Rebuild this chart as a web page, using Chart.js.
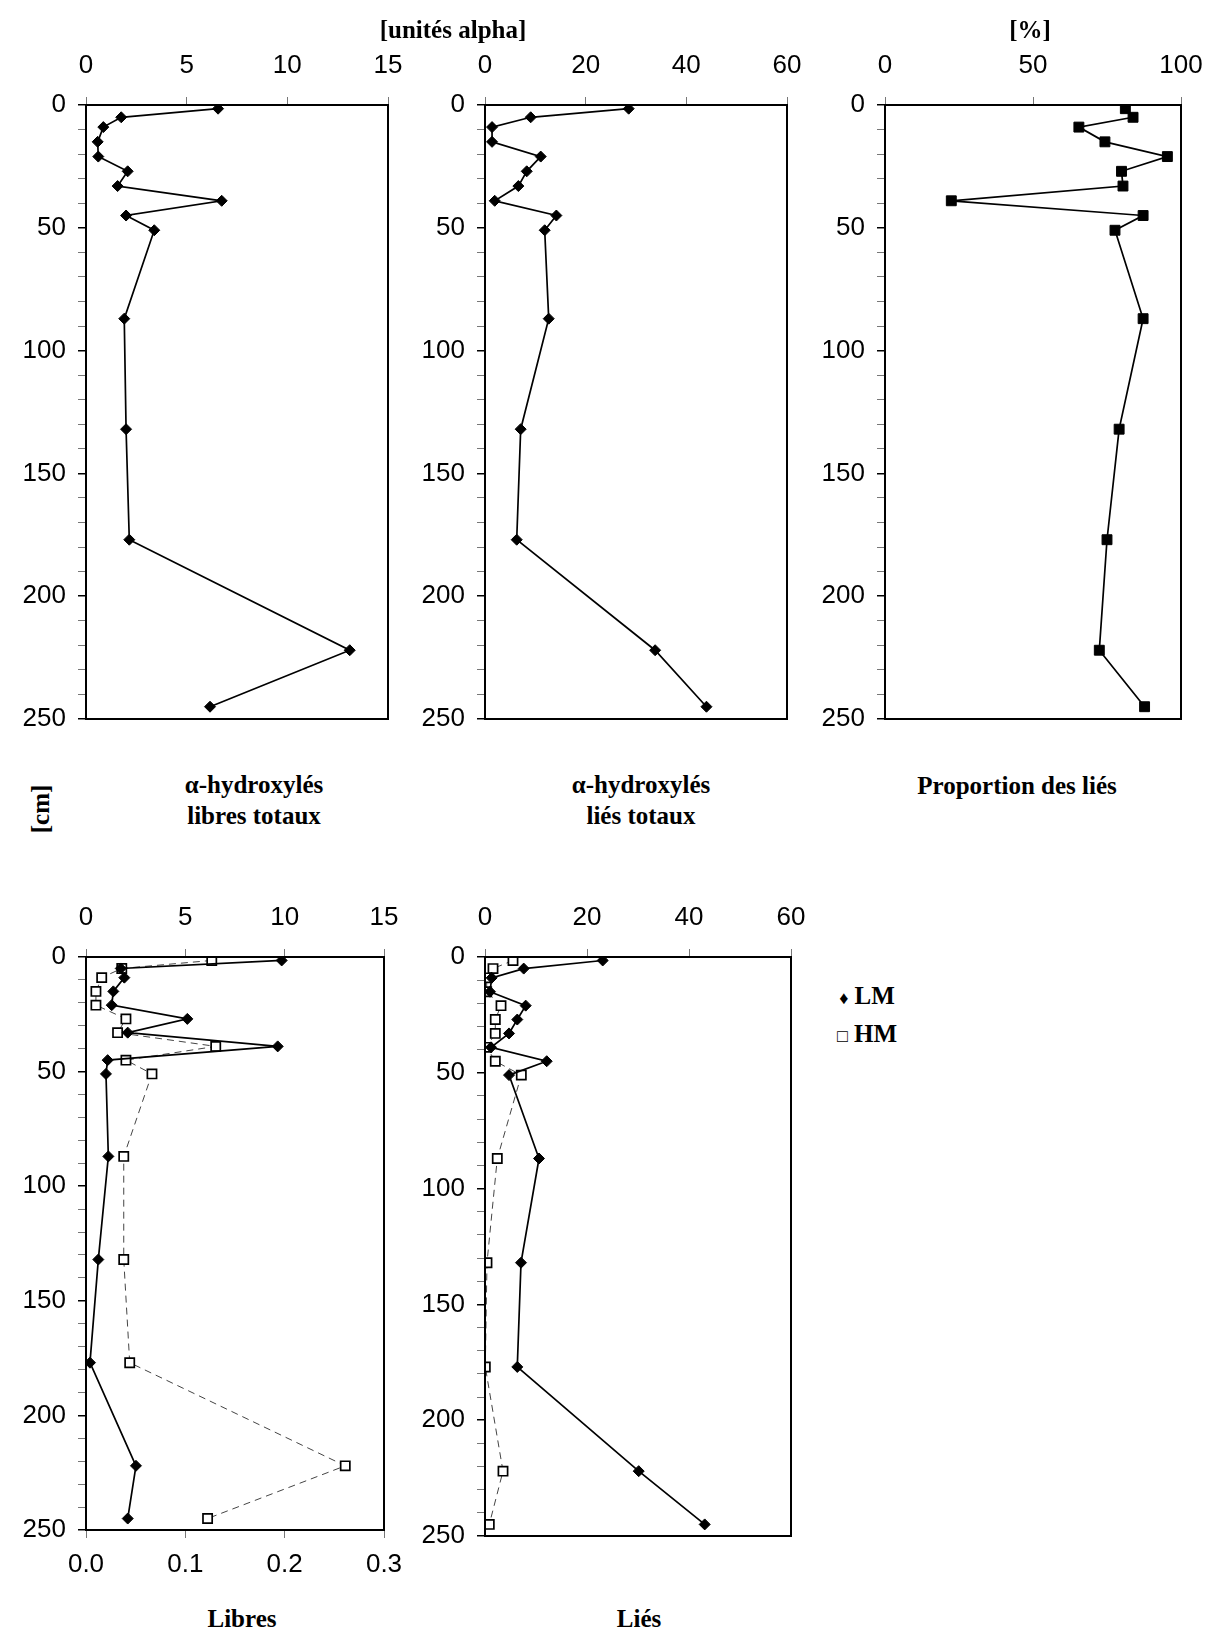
<!DOCTYPE html>
<html>
<head>
<meta charset="utf-8">
<script src="https://cdn.jsdelivr.net/npm/chart.js@4.4.1/dist/chart.umd.min.js"></script>
<style>
  body { margin: 0; background: #fff; width: 1208px; height: 1647px; position: relative; overflow: hidden; }
  canvas { position: absolute; }
  .t { position: absolute; transform: translate(-50%, -50%); font-family: "Liberation Serif", serif; font-weight: bold; font-size: 25px; color: #000; white-space: nowrap; text-align: center; line-height: 31px; }
</style>
</head>
<body>
<canvas id="c1" width="428" height="714" style="left:0px;top:35px"></canvas>
<canvas id="c2" width="427" height="714" style="left:400px;top:35px"></canvas>
<canvas id="c3" width="421" height="714" style="left:800px;top:35px"></canvas>
<canvas id="c4" width="424" height="693" style="left:0px;top:887px"></canvas>
<canvas id="c5" width="431" height="679" style="left:400px;top:887px"></canvas>

<div class="t" style="left:453px;top:29px">[unités alpha]</div>
<div class="t" style="left:1030px;top:29px">[%]</div>
<div class="t" style="left:40px;top:809px;transform:translate(-50%,-50%) rotate(-90deg)">[cm]</div>
<div class="t" style="left:254px;top:800px">α-hydroxylés<br>libres totaux</div>
<div class="t" style="left:641px;top:800px">α-hydroxylés<br>liés totaux</div>
<div class="t" style="left:1017px;top:785px">Proportion des liés</div>
<div class="t" style="left:242px;top:1618px">Libres</div>
<div class="t" style="left:639px;top:1618px">Liés</div>
<div class="t" style="left:867px;top:997px"><span style="font-size:18px">♦</span> LM</div>
<div class="t" style="left:867px;top:1035px"><span style="font-size:18px">□</span> HM</div>

<script>
// depth of each sample [cm]
const depths = [1.5, 5, 9, 15, 21, 27, 33, 39, 45, 51, 87, 132, 177, 222, 245];

// [unités alpha]
const libresTotaux = [6.56, 1.75, 0.86, 0.58, 0.61, 2.07, 1.57, 6.74, 1.99, 3.39, 1.90, 1.99, 2.15, 13.1, 6.16];
const liesTotaux = [28.55, 9.08, 1.4, 1.4, 11.07, 8.29, 6.63, 1.93, 14.18, 11.86, 12.66, 7.09, 6.3, 33.8, 44.0];
// [%]
const proportionLies = [81.2, 83.8, 65.5, 74.3, 95.4, 79.9, 80.4, 22.4, 87.2, 77.7, 87.2, 79.1, 75.0, 72.4, 87.7];

// Libres: LM on the bottom axis (0 - 0.3), HM on the top axis (0 - 15)
const libresLM = [0.197, 0.035, 0.0386, 0.0275, 0.0259, 0.102, 0.042, 0.193, 0.0218, 0.0201, 0.0225, 0.0124, 0.004, 0.0503, 0.042];
const libresHM = [6.33, 1.80, 0.79, 0.50, 0.50, 2.01, 1.59, 6.53, 2.01, 3.32, 1.90, 1.90, 2.20, 13.05, 6.12];
// Liés
const liesLM = [23.08, 7.59, 1.31, 0.98, 7.98, 6.33, 4.71, 1.18, 12.1, 4.71, 10.59, 7.06, 6.33, 30.14, 43.08];
const liesHM = [5.49, 1.57, 0.33, 0.33, 3.14, 2.02, 2.02, 0.33, 2.02, 7.12, 2.41, 0.39, 0.06, 3.53, 0.84];

const depthTicks = [0, 50, 100, 150, 200, 250];

Chart.defaults.font.family = "Liberation Sans";
Chart.defaults.font.size = 26;
Chart.defaults.color = "#000";
Chart.defaults.animation = false;

const pts = (xs) => xs.map((x, i) => ({ x: x, y: depths[i] }));

// box around the plot area
const frame = {
    id: "frame",
    afterDraw(chart) {
        const a = chart.chartArea;
        const ctx = chart.ctx;
        ctx.save();
        ctx.strokeStyle = "#000";
        ctx.lineWidth = 2;
        ctx.strokeRect(a.left, a.top, a.right - a.left, a.bottom - a.top);
        ctx.restore();
    }
};

function depthAxis(w) {
    return {
        reverse: true,
        min: 0,
        max: 250,
        ticks: {
            stepSize: 10,
            autoSkip: false,
            padding: 12,
            callback: v => depthTicks.includes(v) ? v : ""
        },
        grid: {
            drawOnChartArea: false,
            tickLength: 8,
            color: c => (c.tick && c.tick.value % 50 === 0) ? "#000" : "#777",
            lineWidth: c => (c.tick && c.tick.value % 50 === 0) ? 1.5 : 1
        },
        border: { color: "#000", width: 2 },
        afterFit: s => { s.width = w; }
    };
}

function valueAxis(pos, max, step, h, fmt) {
    return {
        type: "linear",
        position: pos,
        min: 0,
        max: max,
        ticks: { stepSize: step, padding: pos === "top" ? 16 : 11, callback: fmt || (v => v) },
        grid: { drawOnChartArea: false, tickLength: 8, color: "#777" },
        border: { color: "#000", width: 2 },
        afterFit: s => { s.height = h; }
    };
}

function solid(data, style, r, xAxisID) {
    return {
        data: pts(data),
        xAxisID: xAxisID || "x",
        showLine: true,
        borderColor: "#000",
        borderWidth: 1.7,
        pointStyle: style,
        pointRadius: r,
        pointBackgroundColor: "#000",
        pointBorderColor: "#000",
        pointBorderWidth: 1
    };
}

function dashed(data, xAxisID) {
    return {
        data: pts(data),
        xAxisID: xAxisID || "x",
        showLine: true,
        borderColor: "#444",
        borderWidth: 1,
        borderDash: [7, 5],
        pointStyle: "rect",
        pointRadius: 6.5,
        pointBackgroundColor: "#fff",
        pointBorderColor: "#000",
        pointBorderWidth: 1.7
    };
}

function drawPanel(id, datasets, scales, padBottom) {
    new Chart(document.getElementById(id), {
        type: "scatter",
        data: { datasets },
        options: {
            responsive: false,
            devicePixelRatio: 1,
            layout: { padding: { left: 0, top: 0, right: 40, bottom: padBottom } },
            plugins: { legend: { display: false }, tooltip: { enabled: false } },
            scales
        },
        plugins: [frame]
    });
}

drawPanel("c1", [solid(libresTotaux, "rectRot", 5.5)],
    { x: valueAxis("top", 15, 5, 70), y: depthAxis(86) }, 30);

drawPanel("c2", [solid(liesTotaux, "rectRot", 5.5)],
    { x: valueAxis("top", 60, 20, 70), y: depthAxis(85) }, 30);

drawPanel("c3", [solid(proportionLies, "rect", 7)],
    { x: valueAxis("top", 100, 50, 70), y: depthAxis(85) }, 30);

drawPanel("c4", [solid(libresLM, "rectRot", 5.5, "x2"), dashed(libresHM, "x")],
    {
        x: valueAxis("top", 15, 5, 70),
        x2: valueAxis("bottom", 0.3, 0.1, 50, v => v.toFixed(1)),
        y: depthAxis(86)
    }, 0);

drawPanel("c5", [solid(liesLM, "rectRot", 5.5), dashed(liesHM)],
    { x: valueAxis("top", 60, 20, 70), y: depthAxis(85) }, 30);
</script>
</body>
</html>
